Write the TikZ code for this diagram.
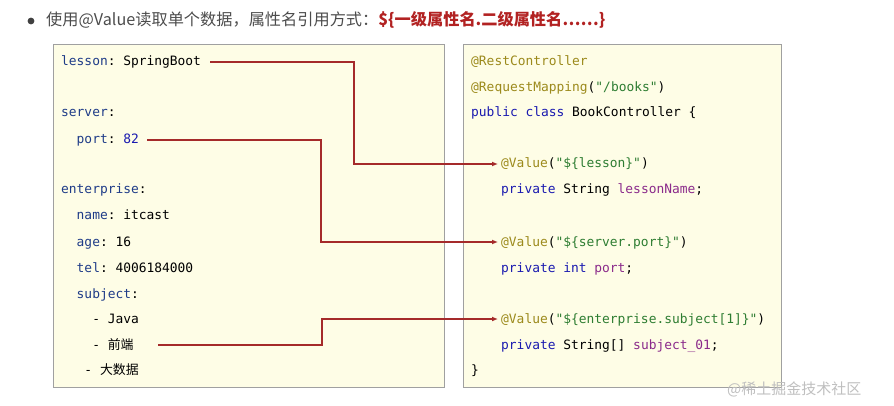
\documentclass[tikz,border=0pt]{standalone}
\usepackage{fontspec}
\setmonofont{DejaVu Sans Mono}
\newfontfamily\cjk{Noto Sans CJK SC}
\usetikzlibrary{arrows.meta}
\definecolor{boxfill}{HTML}{FEFDE6}
\definecolor{boxline}{HTML}{A0A0A0}
\definecolor{keyc}{HTML}{1F3C88}
\definecolor{annc}{HTML}{9C8A1C}
\definecolor{strc}{HTML}{2E7D32}
\definecolor{kwc}{HTML}{1A1AB0}
\definecolor{fldc}{HTML}{8B2B8B}
\definecolor{linkc}{HTML}{A52A2A}
\definecolor{titred}{HTML}{B22222}
\tikzset{
 codebox/.style={draw=boxline,fill=boxfill,line width=0.8pt},
 code/.style={anchor=base west,inner sep=0pt,font=\ttfamily\fontsize{12.9}{14}\selectfont},
 link/.style={draw=linkc,line width=1.3pt},
 linkarr/.style={link,-{Latex[length=6pt,width=5pt]}},
}
\begin{document}
\begin{tikzpicture}[x=1pt,y=-1pt]
\useasboundingbox (0,0) rectangle (894,406);
% title
\fill[black!75] (31,21) circle (3.4);
\node[anchor=base west,inner sep=0pt,font=\cjk\fontsize{16.2}{18}\selectfont,text=black!70] (title) at (46,26) {使用@Value读取单个数据，属性名引用方式：\textcolor{titred}{\bfseries \$\{一级属性名.二级属性名……\}}};
% boxes
\draw[codebox] (53,44) rectangle (444,387);
\draw[codebox] (463,44) rectangle (781,387);
% left
\node[code] (l1) at (61,66) {\textcolor{keyc}{lesson}: SpringBoot};
\node[code] (l2) at (61,117) {\textcolor{keyc}{server}:};
\node[code] (l3) at (61,144) {\textcolor{keyc}{\ \ port}: \textcolor{kwc}{82}};
\node[code] (l4) at (61,194) {\textcolor{keyc}{enterprise}:};
\node[code] (l5) at (61,220) {\textcolor{keyc}{\ \ name}: itcast};
\node[code] (l6) at (61,246) {\textcolor{keyc}{\ \ age}: 16};
\node[code] (l7) at (61,272) {\textcolor{keyc}{\ \ tel}: 4006184000};
\node[code] (l8) at (61,298) {\textcolor{keyc}{\ \ subject}:};
\node[code] (l9) at (61,323) {\ \ \ \ - Java};
\node[code] (l10) at (61,349) {\ \ \ \ - {\cjk 前端}};
\node[code] (l11) at (61,374) {\ \ \ - {\cjk 大数据}};
% right
\node[code] (r1) at (471,66) {\textcolor{annc}{@RestController}};
\node[code] (r2) at (471,92) {\textcolor{annc}{@RequestMapping}(\textcolor{strc}{"/books"})};
\node[code] (r3) at (471,117) {\textcolor{kwc}{public class} BookController \{};
\node[code] (r4) at (501,168) {\textcolor{annc}{@Value}(\textcolor{strc}{"\$\{lesson\}"})};
\node[code] (r5) at (501,194) {\textcolor{kwc}{private} String \textcolor{fldc}{lessonName};};
\node[code] (r6) at (501,246) {\textcolor{annc}{@Value}(\textcolor{strc}{"\$\{server.port\}"})};
\node[code] (r7) at (501,272) {\textcolor{kwc}{private int} \textcolor{fldc}{port};};
\node[code] (r8) at (501,323) {\textcolor{annc}{@Value}(\textcolor{strc}{"\$\{enterprise.subject[1]\}"})};
\node[code] (r9) at (501,349) {\textcolor{kwc}{private} String[] \textcolor{fldc}{subject\_01};};
\node[code] (r10) at (471,374) {\}};
% connectors
\coordinate (c1) at (210,62); \coordinate (c2) at (147,140); \coordinate (c3) at (158,345);
\draw[linkarr] (c1) -- (354,62) -- (354,164) -- (498,164);
\draw[linkarr] (c2) -- (321,140) -- (321,242) -- (498,242);
\draw[linkarr] (c3) -- (322,345) -- (322,319) -- (498,319);
% watermark
\node[anchor=west,inner sep=0pt,font=\cjk\fontsize{15}{17}\selectfont,text=black!25] (wm) at (727,389) {@稀土掘金技术社区};
\end{tikzpicture}
\end{document}
